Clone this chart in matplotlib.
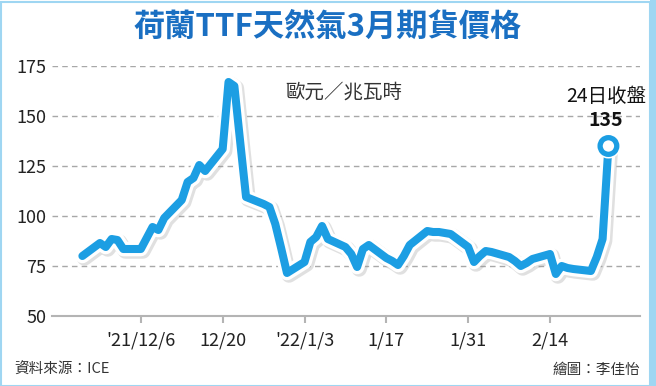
import matplotlib
matplotlib.use("Agg")
import matplotlib.pyplot as plt
import matplotlib.patheffects as pe
import matplotlib.patches as mpatches
import pandas as pd

plt.rcParams['font.family'] = ['Noto Sans CJK TC', 'DejaVu Sans']

# TTF March futures, EUR/MWh
dates = ["2021-11-26", "2021-11-29", "2021-11-30", "2021-12-01", "2021-12-02", "2021-12-03",
         "2021-12-06", "2021-12-07", "2021-12-08", "2021-12-09", "2021-12-10",
         "2021-12-13", "2021-12-14", "2021-12-15", "2021-12-16", "2021-12-17",
         "2021-12-20", "2021-12-21", "2021-12-22", "2021-12-23", "2021-12-24",
         "2021-12-27", "2021-12-28", "2021-12-29", "2021-12-30", "2021-12-31",
         "2022-01-03", "2022-01-04", "2022-01-05", "2022-01-06", "2022-01-07",
         "2022-01-10", "2022-01-11", "2022-01-12", "2022-01-13", "2022-01-14",
         "2022-01-17", "2022-01-18", "2022-01-19", "2022-01-20", "2022-01-21",
         "2022-01-24", "2022-01-25", "2022-01-26", "2022-01-27", "2022-01-28",
         "2022-01-31", "2022-02-01", "2022-02-02", "2022-02-03", "2022-02-04",
         "2022-02-07", "2022-02-08", "2022-02-09", "2022-02-10", "2022-02-11",
         "2022-02-14", "2022-02-15", "2022-02-16", "2022-02-17", "2022-02-18",
         "2022-02-21", "2022-02-22", "2022-02-23", "2022-02-24"]
prices = [80, 86.5, 84.5, 88.5, 88, 83.5,
          83.5, 89, 94.5, 93, 99,
          108, 117, 119, 125.5, 122.5,
          133.5, 167, 165, 137, 109.5,
          106, 104.5, 96, 84, 71.5,
          77, 87, 89.5, 95, 88.5,
          84.5, 81, 74.5, 83.5, 85.5,
          79, 77.5, 75.5, 80, 85.5,
          92.5, 92, 92, 91.5, 91,
          84.5, 77, 80, 82.5, 82,
          79.5, 77.5, 75, 76.5, 78.5,
          81, 71, 75, 74, 73.5,
          72.5, 79.5, 88.5, 135]

tick_dates = ["2021-12-06", "2021-12-20", "2022-01-03", "2022-01-17", "2022-01-31", "2022-02-14"]
tick_labels = ["'21/12/6", "12/20", "'22/1/3", "1/17", "1/31", "2/14"]
y_ticks = [50, 75, 100, 125, 150, 175]

x = pd.to_datetime(dates)

line_blue = '#1c9ee3'
title_blue = '#1a6fc2'

fig = plt.figure(figsize=(6.56, 3.86), dpi=100)
ax = fig.add_axes([52/656, 70/386, 588/656, 250/386])

ax.plot(x, prices, color=line_blue, lw=5.8, solid_joinstyle='round', solid_capstyle='round',
        clip_on=False, zorder=3,
        path_effects=[pe.SimpleLineShadow(offset=(1.5, -1.5), shadow_color='#999999', alpha=0.3, linewidth=11),
                      pe.Stroke(linewidth=10.5, foreground='white'),
                      pe.Normal()])
ax.plot(x[-1:], prices[-1:], 'o', ms=12, mfc='white', mec=line_blue, mew=3.8, clip_on=False, zorder=4,
        path_effects=[pe.Stroke(linewidth=6, foreground='white'), pe.Normal()])

ax.set_ylim(50, 175)
ax.set_xlim(pd.Timestamp("2021-12-06") - pd.Timedelta(days=15.2),
            pd.Timestamp("2022-02-14") + pd.Timedelta(days=15.4))
ax.set_yticks(y_ticks)
ax.set_xticks(pd.to_datetime(tick_dates))
ax.set_xticklabels(tick_labels)

ax.yaxis.grid(True, color='#a8a8a8', ls=(0, (4, 3)), lw=1.0)
ax.set_axisbelow(True)
for s in ['top', 'right', 'left']:
    ax.spines[s].set_visible(False)
ax.spines['bottom'].set_color('#b4b4b4')
ax.spines['bottom'].set_linewidth(1.5)
ax.tick_params(axis='y', length=0, pad=4, labelsize=13, labelcolor='#222222')
ax.tick_params(axis='x', length=5, width=1.5, color='#b4b4b4', pad=6, labelsize=13, labelcolor='#222222')

fig.text(328/656, 1 - 27/386, "荷蘭TTF天然氣3月期貨價格", ha='center', va='center',
         fontsize=22.5, fontweight='bold', color=title_blue)
fig.text(344/656, 1 - 92/386, "歐元／兆瓦時", ha='center', va='center', fontsize=14, color='#333333')
fig.text(606/656, 1 - 97/386, "24日收盤", ha='center', va='center', fontsize=14, color='#111111')
fig.text(606/656, 1 - 120/386, "135", ha='center', va='center', fontsize=14, fontweight='bold', color='#111111')
fig.text(14/656, 1 - 370/386, "資料來源：ICE", ha='left', va='center', fontsize=10.5, color='#333333')
fig.text(640/656, 1 - 370/386, "繪圖：李佳怡", ha='right', va='center', fontsize=10.5, color='#333333')

# light blue frame
fig.patches.append(mpatches.Rectangle((0.5/656, 0.5/386), 649/656, 384/386, transform=fig.transFigure,
                                      fill=False, ec='#9fd6f2', lw=1.5))
fig.patches.append(mpatches.Rectangle((650/656, 0), 6/656, 1, transform=fig.transFigure,
                                      fc='#9fd6f2', ec='none'))

fig.savefig("out.png", dpi=100)
